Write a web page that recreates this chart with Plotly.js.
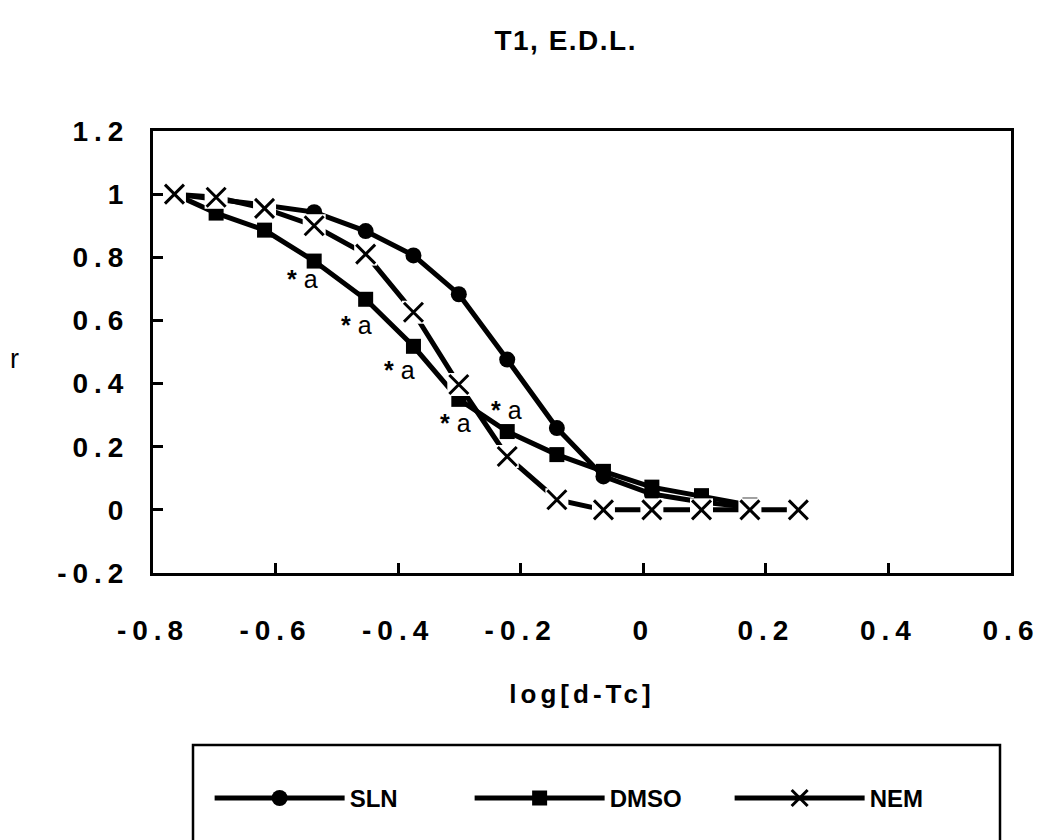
<!DOCTYPE html>
<html><head><meta charset="utf-8">
<script src="https://cdn.plot.ly/plotly-3.0.1.min.js"></script>
<style>
body{margin:0;background:#fff}
#chart{width:1039px;height:840px}
.xtick text,.ytick text{letter-spacing:6px}
.gtitle{letter-spacing:1.5px}
.xtitle{letter-spacing:4px}
</style></head><body><div id="chart"></div>
<script>
// log[d-Tc] positions of the measurements
const logDT = [-0.765, -0.697, -0.618, -0.537, -0.453, -0.375, -0.301, -0.222, -0.141, -0.065, 0.014, 0.095, 0.174, 0.253];
// r values per treatment
const slnR  = [1.0, 0.985, 0.965, 0.943, 0.883, 0.806, 0.683, 0.476, 0.259, 0.106, 0.05, 0.025, 0.008];
const dmsoR = [1.0, 0.94, 0.886, 0.788, 0.667, 0.518, 0.35, 0.248, 0.175, 0.122, 0.072, 0.045, 0.015];
const nemR  = [1.0, 0.99, 0.955, 0.90, 0.81, 0.626, 0.397, 0.169, 0.032, 0.0, 0.0, 0.0, 0.0, 0.0];
const seriesNames = ['SLN', 'DMSO', 'NEM'];
const xTickVals = [-0.8, -0.6, -0.4, -0.2, 0, 0.2, 0.4, 0.6];
const xTickText = ['-0.8', '-0.6', '-0.4', '-0.2', '0', '0.2', '0.4', '0.6'];
const yTickVals = [-0.2, 0, 0.2, 0.4, 0.6, 0.8, 1, 1.2];
const yTickText = ['-0.2', '0', '0.2', '0.4', '0.6', '0.8', '1', '1.2'];
const sigText = '<b>*</b> a';

const FONT = 'Liberation Sans, Arial, Helvetica, sans-serif';
const lineW = 5;

const traces = [
  {x: logDT.slice(0, slnR.length), y: slnR, name: seriesNames[0], mode: 'lines+markers',
   line: {color: '#000', width: lineW},
   marker: {symbol: 'circle', size: 16, color: '#000'}},
  {x: logDT.slice(0, dmsoR.length), y: dmsoR, name: seriesNames[1], mode: 'lines+markers',
   line: {color: '#000', width: lineW},
   marker: {symbol: 'square', size: 15, color: '#000'}},
  {x: logDT, y: nemR, name: seriesNames[2], mode: 'lines+markers',
   line: {color: '#000', width: lineW},
   marker: {symbol: 'x-thin-open', size: 19, color: '#000', line: {color: '#000', width: 3}}},
  // white halo around the NEM crosses (as in the original chart)
  {x: logDT, y: nemR, mode: 'markers', showlegend: false, hoverinfo: 'skip',
   marker: {symbol: 'square', size: 23, color: 'rgb(255,255,255)', opacity: 1, line: {width: 0}}},
  {x: logDT, y: nemR, mode: 'markers', showlegend: false,
   marker: {symbol: 'x-thin-open', size: 19, color: '#000', line: {color: '#000', width: 3}}}
];

const sigPos = [[-0.556, 0.730], [-0.468, 0.587], [-0.398, 0.444], [-0.306, 0.276], [-0.223, 0.317]];
const annotations = sigPos.map(p => ({
  x: p[0], y: p[1], xref: 'x', yref: 'y', text: sigText, showarrow: false,
  font: {family: FONT, size: 25, color: '#000'}
}));
annotations.push({
  x: (8 - 153) / 858, y: (573 - 359) / 442, xref: 'paper', yref: 'paper', xanchor: 'left',
  text: 'r', showarrow: false,
  font: {family: FONT, size: 27, color: '#000'}
});

const layout = {
  width: 1039, height: 840, autosize: false,
  margin: {l: 153, r: 28, t: 131, b: 267, pad: 0},
  paper_bgcolor: '#fff', plot_bgcolor: '#fff',
  font: {family: FONT, color: '#000'},
  showlegend: true,
  title: {text: 'T1, E.D.L.', x: 0.481, xref: 'paper', xanchor: 'center',
          y: 1 - 40 / 840, yref: 'container', yanchor: 'middle',
          font: {family: FONT, size: 28, weight: 'bold', color: '#000'}},
  xaxis: {
    range: [-0.8, 0.6], tickvals: xTickVals, ticktext: xTickText,
    showgrid: false, zeroline: false, showline: true, mirror: true,
    linecolor: '#000', linewidth: 3, ticks: 'inside', ticklen: 10, tickwidth: 3, tickcolor: '#000',
    tickfont: {family: FONT, size: 28, weight: 'bold', color: '#000'},
    ticklabelstandoff: 30, ticklabeloverflow: 'allow',
    title: {text: 'log[d-Tc]', standoff: 41, font: {family: FONT, size: 26, weight: 'bold', color: '#000'}},
    automargin: false
  },
  yaxis: {
    range: [-0.2, 1.2], tickvals: yTickVals, ticktext: yTickText,
    showgrid: false, zeroline: false, showline: true, mirror: true,
    linecolor: '#000', linewidth: 3, ticks: 'inside', ticklen: 10, tickwidth: 3, tickcolor: '#000',
    tickfont: {family: FONT, size: 28, weight: 'bold', color: '#000'},
    ticklabelstandoff: 15, ticklabeloverflow: 'allow',
    automargin: false
  },
  legend: {
    orientation: 'h', x: 0.066, xanchor: 'left', y: -0.51, yanchor: 'middle',
    font: {family: FONT, size: 24, weight: 'bold', color: '#000'},
    itemwidth: 130, entrywidth: 115, entrywidthmode: 'pixels',
    bgcolor: 'rgba(0,0,0,0)', borderwidth: 0, traceorder: 'normal'
  },
  shapes: [{
    type: 'rect', xref: 'paper', yref: 'paper',
    x0: (193 - 153) / 858, x1: (1000 - 153) / 858,
    y0: -(745 - 573) / 442, y1: -(860 - 573) / 442,
    line: {color: '#000', width: 2.5}, fillcolor: 'rgba(0,0,0,0)'
  }],
  annotations: annotations
};

Plotly.newPlot('chart', traces, layout, {displayModeBar: false, staticPlot: true});
</script></body></html>
